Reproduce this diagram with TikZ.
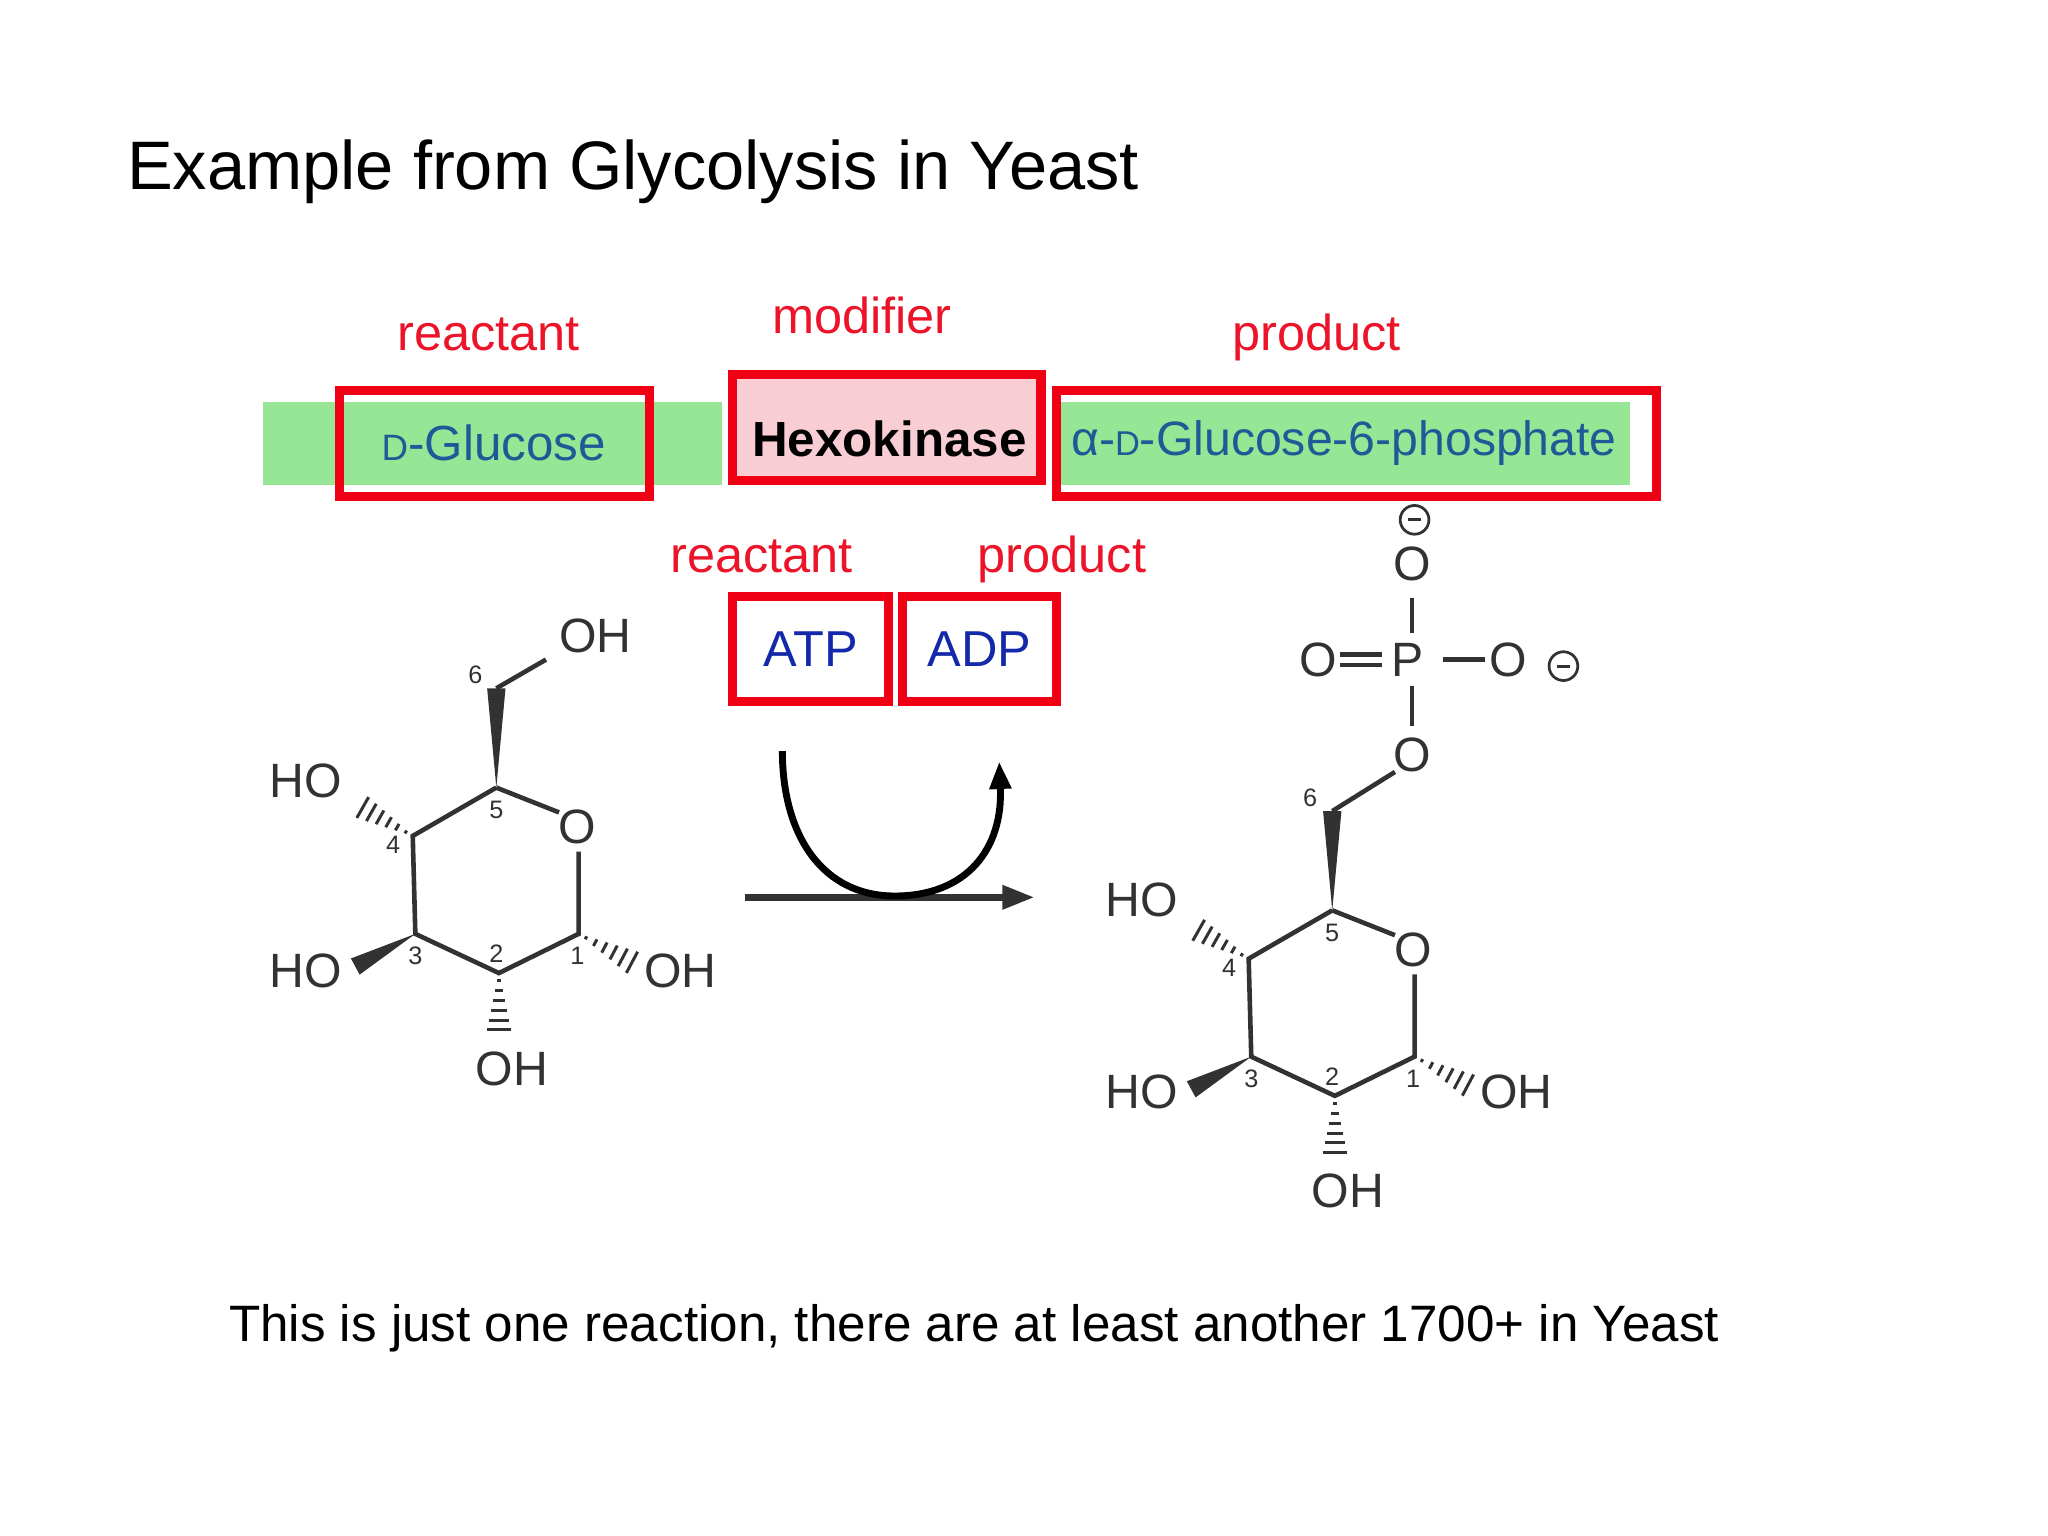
\documentclass[tikz,border=0pt]{standalone}
\usepackage{fontspec}
\setmainfont{Liberation Sans}
\usetikzlibrary{calc,arrows.meta}
\definecolor{lred}{RGB}{235,20,40}
\definecolor{rbox}{RGB}{240,0,20}
\definecolor{lgreen}{RGB}{150,230,150}
\definecolor{lpink}{RGB}{248,205,212}
\definecolor{dblue}{RGB}{20,40,170}
\definecolor{tblue}{RGB}{30,90,150}
\definecolor{chem}{RGB}{50,50,50}
\newcommand{\hashb}[2]{\foreach \t in {0.12,0.27,...,0.95}{\draw[chem,line width=1.3pt] ($(#1)!\t!(#2)!{\t*6pt}!90:(#2)$) -- ($(#1)!\t!(#2)!{\t*6pt}!-90:(#2)$);}}
\newcommand{\wedgeb}[2]{\fill[chem] (#1) -- ($(#2)!4pt!90:(#1)$) -- ($(#2)!4pt!-90:(#1)$) -- cycle;}
\tikzset{
 lbl/.style={text=lred,font=\fontsize{22}{26}\selectfont,inner sep=0pt,anchor=base},
 rb/.style={draw=rbox,line width=4pt},
 atm/.style={text=chem,font=\fontsize{21}{24}\selectfont,inner sep=1pt},
 num/.style={text=chem,font=\fontsize{11}{12}\selectfont,inner sep=0pt},
 bond/.style={chem,line width=2pt},
}
\begin{document}
\begin{tikzpicture}[x=0.02cm,y=-0.02cm]
\useasboundingbox (0,0) rectangle (1568,1176);
\node[anchor=base west,inner sep=0pt,font=\fontsize{29.9}{34}\selectfont] (title) at (97,145) {Example from Glycolysis in Yeast};
% bars
\fill[lgreen] (201,308) rectangle (553,371);
\fill[lgreen] (812,308) rectangle (1248,371);
\fill[lpink] (562,290) rectangle (795,366);
\node[rb,minimum width=237*0.02cm,minimum height=81*0.02cm] (glc) at (378.5,339.5) {};
\node[rb,minimum width=236*0.02cm,minimum height=81*0.02cm] (hex) at (679,327.5) {};
\node[rb,minimum width=459*0.02cm,minimum height=81*0.02cm] (g6p) at (1038.5,339.5) {};
\node[text=tblue,font=\fontsize{21.5}{26}\selectfont] at (378,339) {{\fontsize{16}{20}\selectfont D}-Glucose};
\node[font=\bfseries\fontsize{21.5}{26}\selectfont] at (681,336) {Hexokinase};
\node[text=tblue,font=\fontsize{21}{26}\selectfont] at (1029,339) {α-{\fontsize{15}{20}\selectfont D}-Glucose-6-phosphate};
\node[lbl] (l1) at (374,268) {reactant};
\node[lbl] (l2) at (660,255) {modifier};
\node[lbl] (l3) at (1008,268) {product};
\node[lbl] (l4) at (583,438) {reactant};
\node[lbl] (l5) at (813,438) {product};
\node[rb,minimum width=119*0.02cm,minimum height=80*0.02cm,text=dblue,font=\fontsize{22}{26}\selectfont] (atp) at (620.5,497) {ATP};
\node[rb,minimum width=118*0.02cm,minimum height=80*0.02cm,text=dblue,font=\fontsize{22}{26}\selectfont] (adp) at (750,497) {ADP};
% reaction arrow
\coordinate (ra) at (570,687); \coordinate (rb2) at (792,687);
\draw[chem,line width=3pt,-{Triangle[length=14pt,width=10pt]}] (ra) -- (rb2);
\coordinate (c1) at (599,575); \coordinate (c2) at (685,686); \coordinate (c3) at (765,583);
\draw[black,line width=3pt,-{Triangle[length=12pt,width=9pt]}] (c1) .. controls (599,640) and (630,686) .. (c2) .. controls (740,686) and (768,650) .. (c3);
% left glucose
\begin{scope}
\coordinate (C5) at (380,603); \coordinate (O) at (442,633); \coordinate (C1) at (443,715);
\coordinate (C2) at (382,745); \coordinate (C3) at (318,715); \coordinate (C4) at (316,640);
\coordinate (C6) at (380,527);
\draw[bond] (C5) -- (428,622); \draw[bond] (443,652) -- (C1) -- (C2) -- (C3) -- (C4) -- (C5);
\wedgeb{C5}{C6}
\draw[bond] (C6) -- (418,505);
\hashb{C4}{272,615}
\wedgeb{C3}{272,740}
\hashb{C2}{382,795}
\hashb{C1}{490,740}
\node[atm] (o1) at (442,633) {O};
\node[atm] (oh6) at (456,487) {OH};
\node[atm] (ho4) at (234,598) {HO};
\node[atm] (ho3) at (234,743) {HO};
\node[atm] (oh2) at (392,818) {OH};
\node[atm] (oh1) at (521,743) {OH};
\node[num] at (364,517) {6}; \node[num] at (380,620) {5}; \node[num] at (301,647) {4};
\node[num] at (318,732) {3}; \node[num] at (380,730) {2}; \node[num] at (442,732) {1};
\end{scope}
% right glucose-6-phosphate
\begin{scope}[shift={(640,94)}]
\coordinate (D5) at (380,603); \coordinate (DO) at (442,633); \coordinate (D1) at (443,715);
\coordinate (D2) at (382,745); \coordinate (D3) at (318,715); \coordinate (D4) at (316,640);
\coordinate (D6) at (380,527);
\draw[bond] (D5) -- (428,622); \draw[bond] (443,652) -- (D1) -- (D2) -- (D3) -- (D4) -- (D5);
\wedgeb{D5}{D6}
\draw[bond] (D6) -- (428,497);
\hashb{D4}{272,615}
\wedgeb{D3}{272,740}
\hashb{D2}{382,795}
\hashb{D1}{490,740}
\node[atm] (o2) at (442,633) {O};
\node[atm] (ho4b) at (234,595) {HO};
\node[atm] (ho3b) at (234,742) {HO};
\node[atm] (oh2b) at (392,818) {OH};
\node[atm] (oh1b) at (521,742) {OH};
\node[num] at (363,517) {6}; \node[num] at (380,620) {5}; \node[num] at (301,647) {4};
\node[num] at (318,732) {3}; \node[num] at (380,730) {2}; \node[num] at (442,732) {1};
\end{scope}
\node[atm] (po) at (1081,578) {O};
\node[atm] (pp) at (1078,505) {P};
\node[atm] (pot) at (1081,432) {O};
\node[atm] (pol) at (1009,505) {O};
\node[atm] (por) at (1155,505) {O};
\draw[bond] (1081,485) -- (1081,458);
\draw[bond] (1081,525) -- (1081,556);
\draw[bond] (1026,501) -- (1058,501); \draw[bond] (1026,509) -- (1058,509);
\draw[bond] (1105,505) -- (1137,505);
\node[draw=chem,circle,line width=1.2pt,minimum size=22*0.02cm,inner sep=0pt] (m1) at (1083,398) {};
\draw[chem,line width=1.2pt] (1078,398) -- (1088,398);
\node[draw=chem,circle,line width=1.2pt,minimum size=22*0.02cm,inner sep=0pt] (m2) at (1197,510) {};
\draw[chem,line width=1.2pt] (1192,510) -- (1202,510);
\node[anchor=base west,inner sep=0pt,font=\fontsize{22.3}{26}\selectfont] (foot) at (175,1027) {This is just one reaction, there are at least another 1700+ in Yeast};
\end{tikzpicture}
\end{document}
